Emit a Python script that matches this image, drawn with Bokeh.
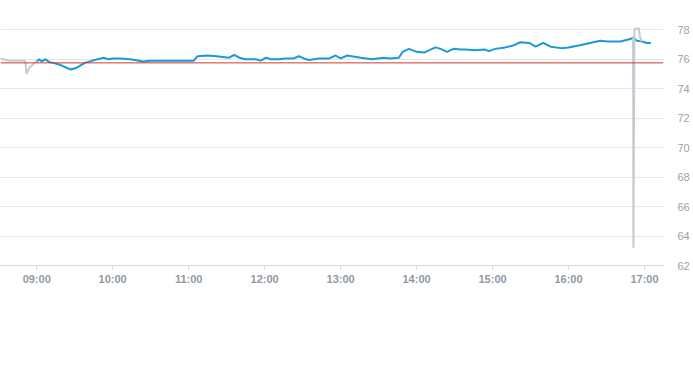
import pandas as pd
from bokeh.plotting import figure
from bokeh.models import (Range1d, FixedTicker, LinearAxis, DatetimeTickFormatter,
                          Span)
from bokeh.embed import file_html
from bokeh.resources import INLINE

DAY = "2024-01-02 "

# Pre-open (grey) series
pre_times = ["08:30", "08:31", "08:38", "08:50", "08:51", "08:52", "08:54",
             "08:56", "08:59", "09:00"]
pre_values = [76.1, 76.05, 75.9, 75.9, 75.85, 75.0, 75.4, 75.55, 75.8, 75.9]

# Main (blue) series
main_times = ["09:00", "09:01", "09:02", "09:04", "09:07", "09:10", "09:13", "09:19",
              "09:24", "09:27", "09:31", "09:35", "09:38", "09:42", "09:48", "09:53",
              "09:56", "10:01", "10:06", "10:14", "10:24", "10:30", "10:38", "10:51",
              "11:04", "11:07", "11:15", "11:22", "11:32", "11:36", "11:40", "11:45",
              "11:53", "11:57", "12:01", "12:05", "12:11", "12:16", "12:23", "12:27",
              "12:31", "12:35", "12:43", "12:51", "12:56", "13:00", "13:04", "13:05",
              "13:16", "13:25", "13:34", "13:39", "13:46", "13:49", "13:54", "14:00",
              "14:06", "14:11", "14:15", "14:19", "14:24", "14:29", "14:35", "14:39",
              "14:46", "14:54", "14:57", "15:02", "15:10", "15:17", "15:22", "15:29",
              "15:34", "15:40", "15:46", "15:54", "16:00", "16:06", "16:09", "16:17",
              "16:25", "16:31", "16:41", "16:48", "16:51", "16:54", "16:58", "17:02",
              "17:05"]
main_values = [75.9, 75.9, 76.0, 75.85, 76.0, 75.8, 75.75, 75.6,
               75.4, 75.3, 75.4, 75.6, 75.75, 75.85, 76.0, 76.1,
               76.0, 76.05, 76.05, 76.0, 75.85, 75.9, 75.9, 75.9,
               75.9, 76.2, 76.25, 76.2, 76.1, 76.3, 76.1, 76.0,
               76.0, 75.9, 76.1, 76.0, 76.0, 76.05, 76.05, 76.2,
               76.05, 75.95, 76.05, 76.05, 76.25, 76.05, 76.2, 76.25,
               76.1, 76.0, 76.1, 76.05, 76.1, 76.5, 76.7, 76.5,
               76.45, 76.65, 76.8, 76.7, 76.5, 76.7, 76.65, 76.65,
               76.6, 76.65, 76.55, 76.7, 76.8, 76.95, 77.15, 77.1,
               76.85, 77.1, 76.85, 76.75, 76.8, 76.9, 76.95, 77.1,
               77.25, 77.2, 77.2, 77.35, 77.45, 77.25, 77.2, 77.1,
               77.1]

# Post (grey) series with spike
post_times = ["16:51:00", "16:51:15", "16:52:00", "16:52:40", "16:55:30",
              "16:56:30", "16:58:00"]
post_values = [77.45, 63.2, 77.9, 78.1, 78.1, 77.5, 77.2]

reference_level = 75.75

x_tick_labels = ["09:00", "10:00", "11:00", "12:00", "13:00", "14:00", "15:00",
                 "16:00", "17:00"]
y_ticks = [62, 64, 66, 68, 70, 72, 74, 76, 78]


def to_dt(ts):
    return pd.to_datetime([DAY + t for t in ts])


p = figure(width=693, height=365, output_backend="svg", toolbar_location=None,
           x_axis_type="datetime", y_axis_location=None,
           min_border_left=0, min_border_right=30, min_border_top=27,
           min_border_bottom=100)
p.outline_line_color = None
p.background_fill_color = "white"
p.border_fill_color = "white"

x0 = pd.Timestamp(DAY + "08:31:25")
x1 = pd.Timestamp(DAY + "17:15:00")
p.x_range = Range1d(x0, x1)
p.y_range = Range1d(62, 78.15)

p.xgrid.visible = False
p.ygrid.ticker = FixedTicker(ticks=y_ticks)
p.ygrid.grid_line_color = "#e6e6e6"
p.ygrid.grid_line_width = 1

xa = p.xaxis[0]
xa.ticker = FixedTicker(ticks=[pd.Timestamp(DAY + t).value / 1e6 for t in x_tick_labels])
xa.formatter = DatetimeTickFormatter(hours="%H:%M", minutes="%H:%M", days="%H:%M")
xa.axis_line_color = "#ccd6eb"
xa.major_tick_line_color = "#ccd6eb"
xa.major_tick_out = 4
xa.major_tick_in = 0
xa.minor_tick_line_color = None
xa.major_label_standoff = 3
xa.major_label_text_font = "Liberation Sans"
xa.major_label_text_font_size = "11px"
xa.major_label_text_font_style = "bold"
xa.major_label_text_color = "#8f99a4"

ya = LinearAxis(ticker=FixedTicker(ticks=y_ticks))
ya.axis_line_color = None
ya.major_tick_line_color = None
ya.minor_tick_line_color = None
ya.major_tick_out = 0
ya.major_tick_in = 0
ya.major_label_standoff = 14
ya.major_label_text_font = "Liberation Sans"
ya.major_label_text_font_size = "11px"
ya.major_label_text_color = "#9aa2aa"
p.add_layout(ya, "right")

p.add_layout(Span(location=reference_level, dimension="width",
                  line_color="#d3372e", line_width=1))

p.line(x=to_dt(pre_times), y=pre_values, line_color="#c2cbd3", line_width=2)
p.line(x=to_dt(main_times), y=main_values, line_color="#1b98d8", line_width=2)
p.line(x=to_dt(post_times), y=post_values, line_color="#c2cbd3", line_width=2)

open("out.html", "w").write(file_html(p, INLINE))
